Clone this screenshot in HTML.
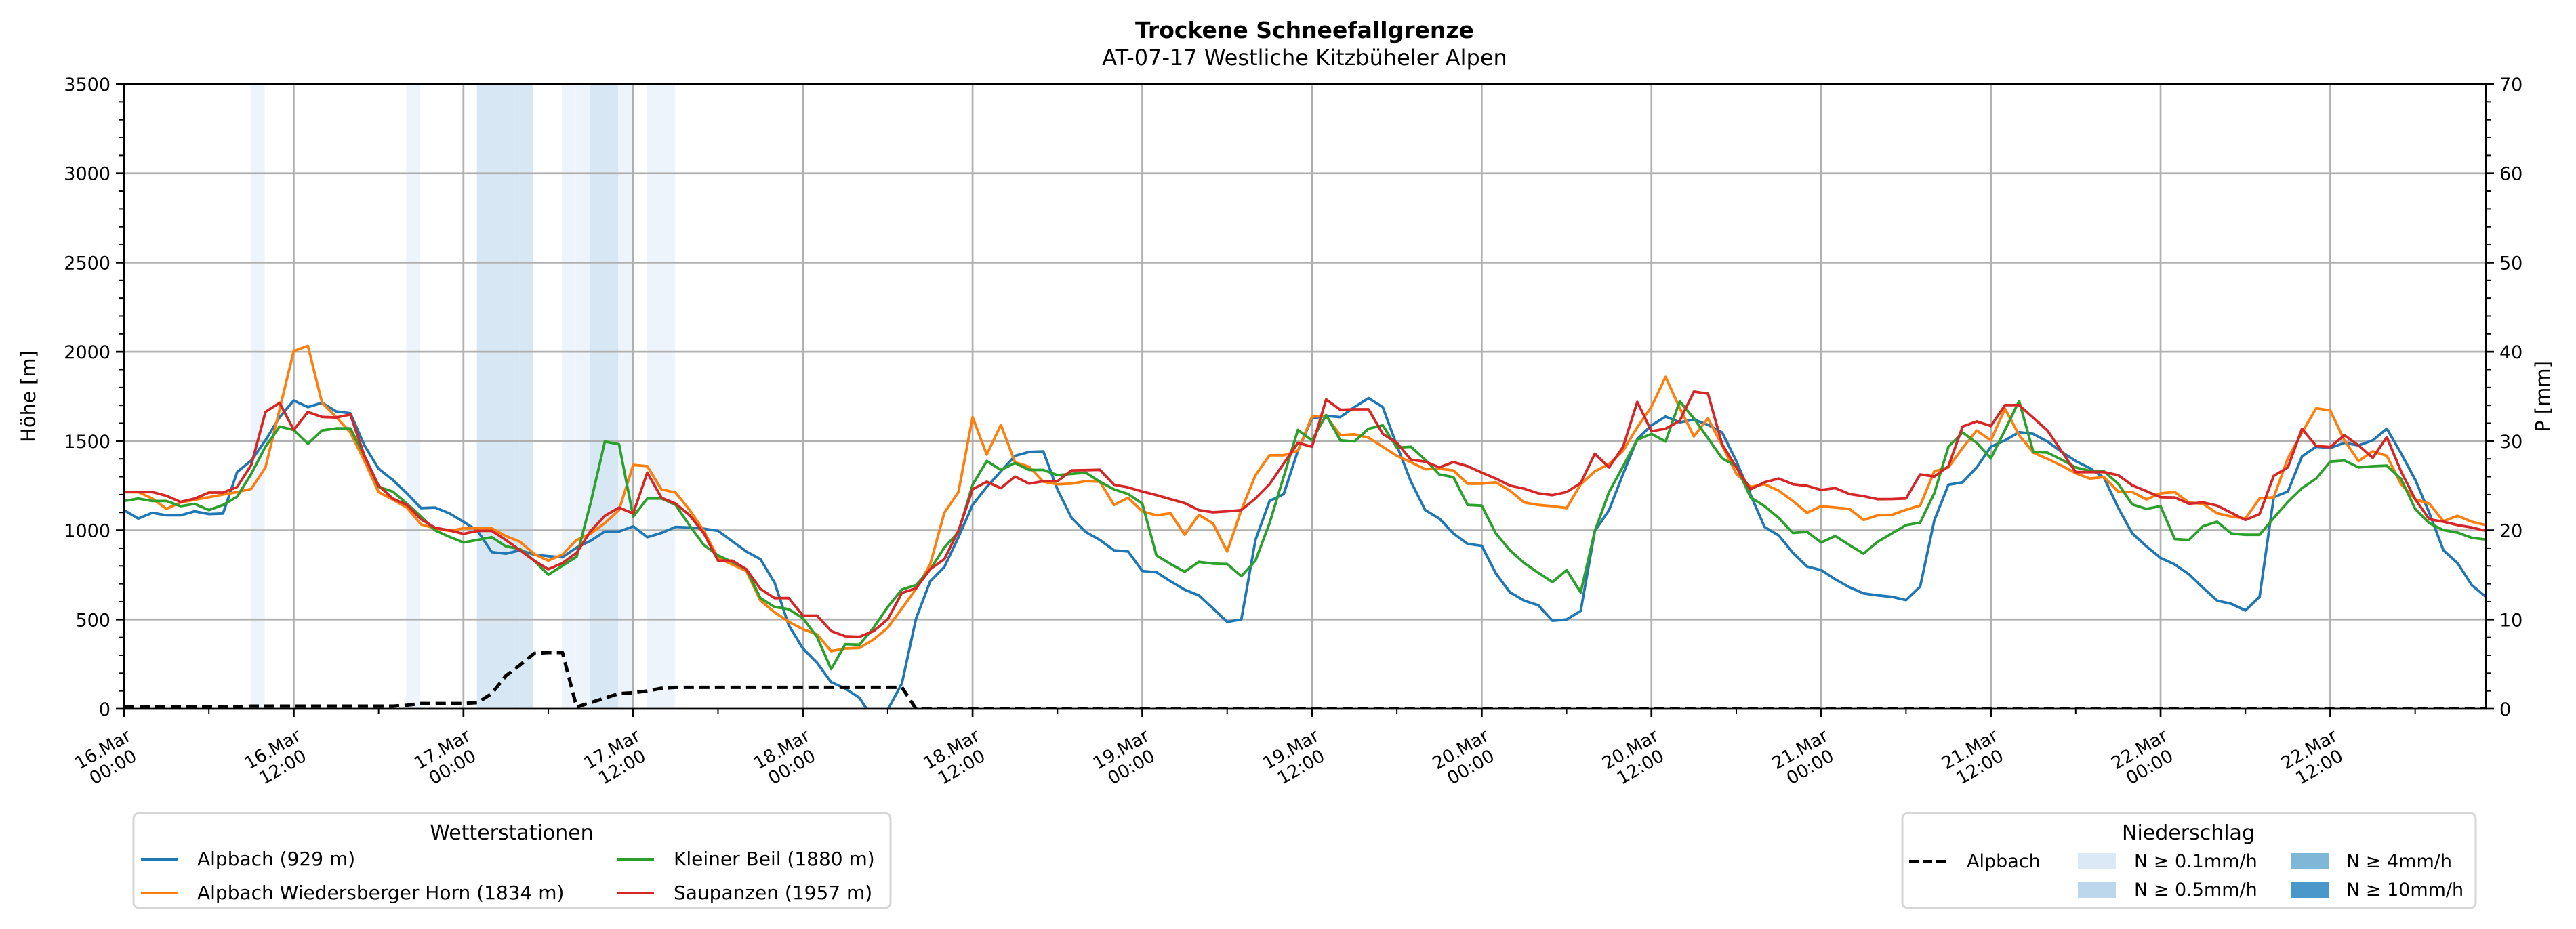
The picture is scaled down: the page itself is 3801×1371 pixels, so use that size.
<!DOCTYPE html>
<html><head><meta charset="utf-8"><style>
html,body{margin:0;padding:0;background:#fff;}
svg{display:block;font-family:"DejaVu Sans","Liberation Sans",sans-serif;}
</style></head><body>
<svg id="chart" width="3801" height="1371" viewBox="0 0 3801 1371" xmlns="http://www.w3.org/2000/svg">
<defs><clipPath id="plotclip"><rect x="183" y="124" width="3485" height="922"/></clipPath></defs>
<rect x="0" y="0" width="3801" height="1371" fill="#fff"/>
<text x="1925" y="56" text-anchor="middle" font-size="33" font-weight="bold">Trockene Schneefallgrenze</text>
<text x="1925" y="96" text-anchor="middle" font-size="32">AT-07-17 Westliche Kitzbüheler Alpen</text>
<g id="bands" clip-path="url(#plotclip)"></g>
<g id="grid"></g>
<g id="series" clip-path="url(#plotclip)"></g>
<g id="axes"></g>
<text transform="translate(52,585) rotate(-90)" text-anchor="middle" font-size="29">Höhe [m]</text>
<text transform="translate(3762,585) rotate(-90)" text-anchor="middle" font-size="29">P [mm]</text>

<g>
<rect x="197" y="1200" width="1117" height="140" rx="8" fill="#fff" stroke="#d6d6d6" stroke-width="3"/>
<text x="755" y="1239" text-anchor="middle" font-size="30">Wetterstationen</text>
<line x1="208" y1="1268" x2="262" y2="1268" stroke="#1f77b4" stroke-width="4"/>
<text x="291" y="1277" font-size="28">Alpbach (929 m)</text>
<line x1="208" y1="1318" x2="262" y2="1318" stroke="#ff7f0e" stroke-width="4"/>
<text x="291" y="1327" font-size="28">Alpbach Wiedersberger Horn (1834 m)</text>
<line x1="911" y1="1268" x2="965" y2="1268" stroke="#2ca02c" stroke-width="4"/>
<text x="994" y="1277" font-size="28">Kleiner Beil (1880 m)</text>
<line x1="911" y1="1318" x2="965" y2="1318" stroke="#d62728" stroke-width="4"/>
<text x="994" y="1327" font-size="28">Saupanzen (1957 m)</text>
</g>

<g>
<rect x="2807" y="1200" width="846" height="140" rx="8" fill="#fff" stroke="#d6d6d6" stroke-width="3"/>
<text x="3229" y="1239" text-anchor="middle" font-size="30">Niederschlag</text>
<line x1="2817" y1="1271" x2="2875" y2="1271" stroke="#000" stroke-width="4" stroke-dasharray="14,6"/>
<text x="2902" y="1280" font-size="27">Alpbach</text>
<rect x="3066" y="1259" width="56" height="24" fill="#dbe9f6"/>
<text x="3149" y="1280" font-size="27">N ≥ 0.1mm/h</text>
<rect x="3066" y="1301" width="56" height="24" fill="#bcd6ec"/>
<text x="3149" y="1322" font-size="27">N ≥ 0.5mm/h</text>
<rect x="3380" y="1259" width="57" height="24" fill="#7fb7d9"/>
<text x="3462" y="1280" font-size="27">N ≥ 4mm/h</text>
<rect x="3380" y="1301" width="57" height="24" fill="#4a98c9"/>
<text x="3462" y="1322" font-size="27">N ≥ 10mm/h</text>
</g>
</svg>
<script>
const xTickLabels = ["16.Mar|00:00","16.Mar|12:00","17.Mar|00:00","17.Mar|12:00","18.Mar|00:00","18.Mar|12:00","19.Mar|00:00","19.Mar|12:00","20.Mar|00:00","20.Mar|12:00","21.Mar|00:00","21.Mar|12:00","22.Mar|00:00","22.Mar|12:00"];
const yTicks = [0,500,1000,1500,2000,2500,3000,3500];
const y2Ticks = [0,10,20,30,40,50,60,70];
const alpbach = [1113,1066,1098,1084,1084,1106,1091,1094,1326,1391,1504,1634,1727,1690,1714,1666,1656,1475,1345,1282,1207,1124,1127,1095,1048,997,878,869,888,864,855,849,903,942,993,993,1022,961,985,1019,1016,1009,
997,939,881,838,707,468,338,258,149,113,62,-60,-5,142,504,714,794,961,1142,1243,1330,1417,1439,1442,1229,1069,990,946,888,881,772,765,714,667,635,562,487,500,946,1164,1203,1446,
1627,1641,1634,1690,1740,1690,1475,1272,1113,1066,982,924,913,758,652,606,580,493,500,548,997,1113,1316,1511,1588,1637,1605,1620,1591,1548,1388,1200,1019,971,874,797,777,725,681,646,635,
627,609,685,1055,1255,1269,1352,1468,1504,1550,1540,1497,1439,1388,1348,1294,1127,982,910,845,809,754,678,606,588,551,627,1185,1217,1414,1468,1461,1490,1475,1504,1569,1432,1284,1098,888,816,693,627];
const wiedersberger = [1214,1214,1178,1120,1156,1171,1185,1200,1214,1232,1352,1678,2004,2033,1714,1635,1548,1388,1214,1171,1127,1033,1011,997,1011,1011,1011,968,936,867,830,864,946,982,1040,1113,1366,1359,1229,1211,1113,997,
845,809,772,606,541,487,446,417,323,338,341,388,454,562,671,809,1098,1214,1634,1424,1591,1381,1356,1272,1258,1261,1275,1272,1142,1182,1106,1084,1095,975,1087,1038,881,1113,1308,1420,1420,1446,
1637,1641,1533,1538,1519,1468,1417,1381,1342,1345,1335,1261,1261,1269,1222,1156,1142,1135,1124,1258,1330,1371,1446,1577,1692,1859,1685,1526,1627,1475,1316,1243,1258,1222,1164,1098,1135,1127,1120,1058,1084,
1087,1115,1139,1330,1352,1461,1559,1504,1681,1533,1435,1400,1362,1319,1290,1298,1217,1214,1173,1207,1214,1156,1148,1095,1077,1066,1178,1185,1403,1548,1683,1671,1504,1388,1443,1417,1258,1174,1149,1051,1081,1048,1029];
const kleinerBeil = [1164,1178,1164,1164,1135,1148,1113,1142,1188,1316,1468,1581,1562,1485,1559,1571,1571,1417,1243,1217,1149,1077,1000,964,932,946,961,910,895,830,751,801,852,1156,1497,1482,1077,1178,1178,1142,1026,917,
859,823,782,620,570,558,507,403,222,362,359,454,570,668,693,780,903,990,1255,1388,1338,1377,1338,1338,1309,1316,1323,1272,1229,1203,1149,859,811,768,823,813,811,743,830,1040,1301,1562,
1504,1646,1504,1498,1569,1588,1463,1468,1395,1313,1298,1142,1138,982,888,816,762,710,777,652,997,1214,1359,1507,1540,1497,1722,1627,1516,1403,1359,1185,1135,1069,985,991,932,968,917,869,936,
982,1029,1043,1207,1468,1548,1490,1403,1562,1724,1439,1435,1396,1352,1333,1330,1261,1145,1120,1135,951,946,1023,1048,982,975,975,1069,1159,1236,1290,1385,1391,1352,1359,1362,1288,1120,1040,1001,987,958,948];
const saupanzen = [1214,1214,1214,1193,1159,1178,1211,1211,1243,1366,1663,1714,1562,1663,1635,1632,1649,1417,1250,1178,1142,1062,1014,1000,980,997,997,946,888,830,782,816,874,997,1081,1127,1094,1323,1182,1149,1084,982,
830,830,782,671,620,620,522,522,435,406,403,435,501,649,675,782,838,997,1229,1272,1236,1301,1261,1275,1275,1336,1337,1339,1255,1240,1217,1197,1174,1152,1113,1101,1106,1113,1178,1258,1374,1490,
1468,1733,1675,1678,1678,1540,1490,1395,1385,1352,1382,1359,1323,1290,1250,1233,1207,1197,1214,1265,1429,1352,1468,1719,1555,1569,1613,1777,1765,1482,1352,1229,1269,1290,1258,1249,1226,1236,1203,1191,1174,
1175,1178,1313,1301,1359,1581,1610,1584,1701,1701,1630,1559,1443,1326,1326,1326,1309,1252,1219,1185,1184,1149,1156,1138,1098,1058,1091,1305,1352,1569,1472,1466,1533,1475,1406,1522,1330,1174,1062,1048,1029,1016,997];
const precipAlpbach = [0.2,0.2,0.2,0.2,0.2,0.2,0.2,0.2,0.2,0.3,0.3,0.3,0.3,0.3,0.3,0.3,0.3,0.3,0.3,0.3,0.4,0.6,0.6,0.6,0.6,0.7,1.7,3.7,4.9,6.2,6.3,6.3,0.2,0.7,1.2,1.7,1.8,2.0,2.3,2.4,2.4,2.4,2.4,2.4,2.4,2.4,2.4,2.4,2.4,2.4,2.4,2.4,2.4,2.4,2.4,2.4,
0,0,0,0,0,0,0,0,0,0,0,0,0,0,0,0,0,0,0,0,0,0,0,0,0,0,0,0,0,0,0,0,0,0,0,0,0,0,0,0,0,0,0,0,0,0,0,0,0,0,0,0,0,0,0,0,0,0,0,0,0,0,0,0,0,0,0,0,0,0,0,0,0,0,0,0,0,0,0,0,0,0,0,0,0,0,0,0,0,0,0,0,0,0,0,0,0,0,0,0,0,0,0,0,0,0,0,0,0,0,0,0];
const bandHours = [9,20,25,26,27,28,31,32,33,34,35,37,38];
const bandLevels = [0.1,0.1,0.5,0.5,0.5,0.5,0.1,0.1,0.5,0.5,0.1,0.1,0.1];

const NS="http://www.w3.org/2000/svg";
const X0=183,X1=3668,Y0=1046,Y1=124,HMAX=167;
function xS(h){return X0+h*(X1-X0)/HMAX;}
function yL(v){return Y0-v*(Y0-Y1)/3500;}
function yR(v){return Y0-v*(Y0-Y1)/70;}
function mk(tag,attrs,parent){const e=document.createElementNS(NS,tag);for(const k in attrs)e.setAttribute(k,attrs[k]);parent.appendChild(e);return e;}

const bands=document.getElementById('bands');
bandHours.forEach((h,i)=>{
  const r=mk('rect',{x:xS(h-0.05),y:Y1,width:xS(h+0.95)-xS(h-0.05),height:Y0-Y1,fill:bandLevels[i]>=0.5?'#d8e7f4':'#eef4fb'},bands);
  
  
});

const grid=document.getElementById('grid');
yTicks.forEach(v=>{const l=mk('line',{x1:X0,x2:X1,y1:yL(v),y2:yL(v),stroke:'#b0b0b0','stroke-width':2.7},grid);
  
  });
xTickLabels.forEach((s,i)=>{const x=xS(i*12);const l=mk('line',{x1:x,x2:x,y1:Y0,y2:Y1,stroke:'#b0b0b0','stroke-width':2.7},grid);
  
  });

const series=document.getElementById('series');
function line(arr,scale,color,name,dash){
  const pts=arr.map((v,i)=>xS(i).toFixed(1)+','+scale(v).toFixed(1)).join(' ');
  const p=mk('polyline',{points:pts,fill:'none',stroke:color,'stroke-width':dash?5:3.8,'stroke-linejoin':'round'},series);
  if(dash)p.setAttribute('stroke-dasharray','15,8');
  
  
}
line(alpbach,yL,'#1f77b4','series-alpbach');
line(wiedersberger,yL,'#ff7f0e','series-wiedersberger-horn');
line(kleinerBeil,yL,'#2ca02c','series-kleiner-beil');
line(saupanzen,yL,'#d62728','series-saupanzen');
line(precipAlpbach,yR,'#000','series-precip-alpbach',true);

const axes=document.getElementById('axes');
const frame=mk('rect',{x:X0,y:Y1,width:X1-X0,height:Y0-Y1,fill:'none',stroke:'#000','stroke-width':2.7},axes);


for(let v=0;v<=3500;v+=100){const maj=v%500===0;mk('line',{x1:X0,x2:X0-(maj?12:7),y1:yL(v),y2:yL(v),stroke:'#000','stroke-width':maj?2.7:2},axes);}
for(let v=0;v<=70;v+=2){const maj=v%10===0;mk('line',{x1:X1,x2:X1+(maj?12:7),y1:yR(v),y2:yR(v),stroke:'#000','stroke-width':maj?2.7:2},axes);}
for(let h=0;h<=HMAX;h+=6){const maj=h%12===0;mk('line',{x1:xS(h),x2:xS(h),y1:Y0,y2:Y0+(maj?12:7),stroke:'#000','stroke-width':maj?2.7:2},axes);}
yTicks.forEach(v=>{const t=mk('text',{x:X0-20,y:yL(v)+10,'text-anchor':'end','font-size':27},axes);t.textContent=v;
  
  });
y2Ticks.forEach(v=>{const t=mk('text',{x:X1+20,y:yR(v)+10,'text-anchor':'start','font-size':27},axes);t.textContent=v;
  
  });
xTickLabels.forEach((s,i)=>{
  const g=mk('g',{transform:'translate('+(xS(i*12)+8)+',1082) rotate(-30)'},axes);
  
  
  const [a,b]=s.split('|');
  const t1=mk('text',{x:-46,y:10,'text-anchor':'middle','font-size':26},g);t1.textContent=a;
  const t2=mk('text',{x:-46,y:40,'text-anchor':'middle','font-size':26},g);t2.textContent=b;
});
</script>
</body></html>
